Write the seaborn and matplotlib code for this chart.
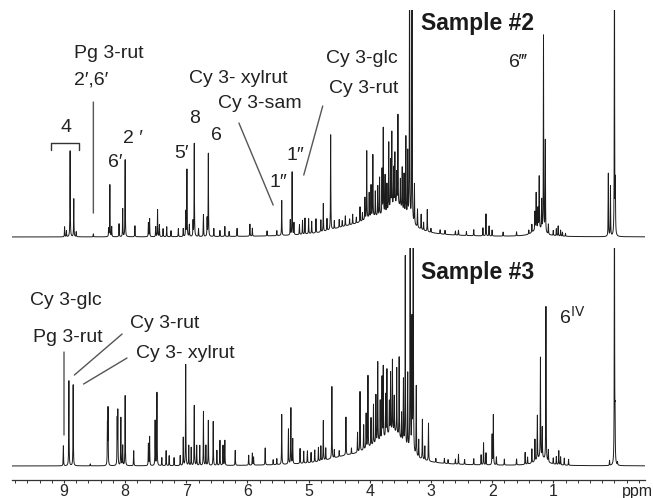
import numpy as np
import pandas as pd
import seaborn as sns
from matplotlib import pyplot as plt

# Sample #2 - sharp peaks: position (ppm) and height above the local background
s2_ppm = [8.99, 8.96, 8.90, 8.84, 8.80, 8.52, 8.27, 8.25, 8.22, 8.10, 8.04, 8.00,
          7.84, 7.62, 7.60, 7.50, 7.47, 7.44, 7.38, 7.32, 7.25, 7.13, 7.05, 7.01,
          6.99, 6.95, 6.89, 6.87, 6.80, 6.72, 6.66, 6.64, 6.55, 6.45, 6.37, 6.30,
          6.17, 5.96, 5.92, 5.68, 5.52, 5.44, 5.30, 5.27, 5.24, 5.15, 5.10, 5.06,
          5.00, 4.95, 4.88, 4.80, 4.76, 4.70, 4.64, 4.58, 4.50, 4.45, 4.40, 4.33,
          4.28, 4.22, 4.16, 4.12, 4.08, 4.05, 4.01, 3.98, 3.95, 3.91, 3.87, 3.84,
          3.80, 3.78, 3.75, 3.72, 3.69, 3.66, 3.64, 3.61, 3.59, 3.56, 3.54, 3.50,
          3.47, 3.44, 3.41, 3.38, 3.35, 3.31, 3.27, 3.22, 3.16, 3.12, 3.06, 3.00,
          2.85, 2.77, 2.60, 2.55, 2.42, 2.30, 2.15, 2.10, 2.05, 2.00, 1.82, 1.60,
          1.40, 1.35, 1.30, 1.28, 1.25, 1.23, 1.19, 1.16, 1.13, 1.08, 1.00, 0.95,
          0.92, 0.88, 0.85, 0.80, 0.10, 0.065, 0.00, -0.015]
s2_int = [10, 6, 86, 38, 5, 3, 8, 52, 10, 13, 28, 77,
          11, 14, 18, 10, 27, 12, 8, 10, 6, 8, 8, 25,
          67, 12, 15, 93, 8, 22, 18, 83, 8, 6, 10, 5,
          8, 12, 8, 5, 5, 35, 15, 63, 12, 10, 14, 16,
          15, 12, 14, 12, 28, 12, 95, 8, 8, 6, 10, 6,
          10, 6, 15, 8, 22, 68, 25, 32, 62, 25, 30, 38,
          45, 86, 38, 28, 68, 48, 75, 38, 52, 32, 90, 28,
          42, 38, 78, 65, 300, 300, 40, 18, 15, 8, 22, 4,
          4, 4, 4, 5, 4, 6, 8, 22, 10, 6, 4, 4,
          4, 8, 18, 36, 20, 52, 30, 196, 92, 10, 5, 7,
          10, 6, 4, 3, 63, 50, 300, 50]
# broad background humps: centre, height, half width
s2_hump_ppm = [3.55, 3.95, 4.40, 1.25]
s2_hump_int = [26, 12, 6, 8]
s2_hump_wid = [0.20, 0.30, 0.40, 0.10]

# Sample #3
s3_ppm = [9.01, 8.92, 8.85, 8.57, 8.29, 8.28, 8.13, 8.12, 8.07, 8.04, 8.00, 7.86,
          7.62, 7.60, 7.51, 7.48, 7.40, 7.33, 7.28, 7.20, 7.10, 7.05, 7.01, 6.96,
          6.92, 6.87, 6.83, 6.78, 6.72, 6.68, 6.64, 6.56, 6.50, 6.45, 6.40, 6.37,
          6.20, 5.98, 5.92, 5.90, 5.71, 5.58, 5.52, 5.44, 5.33, 5.29, 5.26, 5.14,
          5.08, 5.02, 4.96, 4.90, 4.84, 4.80, 4.76, 4.72, 4.62, 4.58, 4.50, 4.39,
          4.30, 4.20, 4.16, 4.10, 4.06, 4.03, 3.98, 3.94, 3.90, 3.87, 3.83, 3.80,
          3.78, 3.74, 3.72, 3.68, 3.66, 3.63, 3.60, 3.56, 3.52, 3.48, 3.45, 3.42,
          3.38, 3.34, 3.31, 3.29, 3.24, 3.20, 3.14, 3.10, 3.04, 2.92, 2.78, 2.72,
          2.60, 2.55, 2.45, 2.30, 2.18, 2.14, 2.10, 2.00, 1.98, 1.93, 1.80, 1.60,
          1.46, 1.42, 1.35, 1.30, 1.26, 1.21, 1.18, 1.12, 1.08, 1.00, 0.95, 0.91,
          0.88, 0.82, 0.75, 0.08, 0.00, -0.01, -0.05]
s3_int = [20, 85, 81, 2, 40, 56, 45, 53, 48, 20, 70, 15,
          22, 29, 45, 73, 8, 15, 10, 8, 10, 28, 101, 20,
          18, 60, 20, 20, 54, 20, 45, 44, 15, 25, 20, 25,
          15, 10, 12, 8, 17, 5, 6, 50, 35, 56, 25, 15,
          12, 12, 10, 12, 14, 15, 40, 12, 72, 8, 6, 38,
          6, 20, 60, 25, 35, 72, 28, 40, 48, 80, 40, 62,
          72, 42, 66, 32, 60, 72, 36, 66, 80, 28, 64, 190,
          75, 300, 130, 300, 70, 18, 40, 14, 38, 4, 5, 4,
          5, 10, 5, 6, 10, 22, 12, 30, 50, 8, 6, 6,
          12, 7, 14, 22, 44, 100, 30, 154, 12, 6, 8, 14,
          8, 7, 6, 5, 300, 39, 3]
s3_hump_ppm = [3.60, 3.90, 4.40, 1.20]
s3_hump_int = [26, 12, 6, 8]
s3_hump_wid = [0.20, 0.30, 0.40, 0.10]

tick_ppm = [9, 8, 7, 6, 5, 4, 3, 2, 1]


def spectrum(grid, ppm, inten, hump_ppm, hump_int, hump_wid, hw=0.003):
    y = np.zeros_like(grid)
    for p, h in zip(ppm, inten):
        y += h / (1 + ((grid - p) / hw) ** 2)
    for p, h, w in zip(hump_ppm, hump_int, hump_wid):
        y += h / (1 + ((grid - p) / w) ** 2)
    return y


grid = np.arange(-0.5, 9.85, 0.0005)
df2 = pd.DataFrame({"ppm": grid,
                    "I": spectrum(grid, s2_ppm, s2_int, s2_hump_ppm, s2_hump_int, s2_hump_wid)})
df3 = pd.DataFrame({"ppm": grid,
                    "I": spectrum(grid, s3_ppm, s3_int, s3_hump_ppm, s3_hump_int, s3_hump_wid)})

sns.set_style("white")
plt.rcParams['font.family'] = ['Liberation Sans', 'DejaVu Sans']

fig = plt.figure(figsize=(6.53, 4.98), dpi=100)
ax1 = fig.add_axes([0.0184, 0.518, 0.9694, 0.4618])
ax2 = fig.add_axes([0.0184, 0.0361, 0.9694, 0.4659])

line_col = "#1c1c1c"
for ax, df in ((ax1, df2), (ax2, df3)):
    sns.lineplot(data=df, x="ppm", y="I", ax=ax, color=line_col, linewidth=0.7,
                 estimator=None, sort=False)
    ax.set_xlim(9.85, -0.5)
    ax.set_xlabel("")
    ax.set_ylabel("")
    ax.set_yticks([])

ax1.set_ylim(-3, 227)
ax2.set_ylim(-14, 218)

sns.despine(ax=ax1, left=True, bottom=True)
ax1.set_xticks([])
sns.despine(ax=ax2, left=True)
ax2.spines['bottom'].set_color("#333333")
ax2.spines['bottom'].set_linewidth(0.9)
ax2.set_xticks(tick_ppm)
ax2.set_xticks(np.arange(-0.4, 9.85, 0.2), minor=True)
ax2.tick_params(axis='x', which='major', direction='out', length=2.4, width=0.8,
                color="#333333", labelsize=11.5, pad=0.4, bottom=True)
ax2.tick_params(axis='x', which='minor', direction='out', length=1.8, width=0.7,
                color="#333333", bottom=True)
ax2.text(-0.38, -0.05, "ppm", transform=ax2.get_xaxis_transform(),
         ha='center', va='center', fontsize=11.5, color="#222222")

txt = dict(fontsize=14, color="#222222", va='center')
pcol = "#555555"


def pointer(ax, x0, y0, x1, y1):
    ax.annotate("", xy=(x1, y1), xytext=(x0, y0),
                arrowprops=dict(arrowstyle='-', color=pcol, lw=1.0,
                                shrinkA=0, shrinkB=0))


# Sample #2 labels
ax1.text(8.83, 184, "Pg 3-rut", ha='left', **txt)
ax1.text(8.83, 157, "2\u2032,6\u2032", ha='left', **txt)
pointer(ax1, 8.52, 135, 8.52, 24)
ax1.text(8.96, 110, "4", ha='center', **txt)
ax1.plot([9.22, 9.22, 8.76, 8.76], [87, 94, 94, 87], color="#333333", lw=1.0)
ax1.text(8.17, 75, "6\u2032", ha='center', **txt)
ax1.text(7.87, 99, "2 \u2032", ha='center', **txt)
ax1.text(7.08, 84, "5\u2032", ha='center', **txt)
ax1.text(6.87, 119, "8", ha='center', **txt)
ax1.text(6.51, 102, "6", ha='center', **txt)
ax1.text(6.95, 159, "Cy 3- xylrut", ha='left', **txt)
ax1.text(6.48, 134, "Cy 3-sam", ha='left', **txt)
pointer(ax1, 6.14, 114, 5.58, 32)
ax1.text(5.49, 55, "1\u2033", ha='center', **txt)
ax1.text(5.21, 82, "1\u2033", ha='center', **txt)
pointer(ax1, 4.77, 131, 5.08, 62)
ax1.text(4.72, 179, "Cy 3-glc", ha='left', **txt)
ax1.text(4.67, 149, "Cy 3-rut", ha='left', **txt)
ax1.text(3.17, 214, "Sample #2", ha='left', fontsize=16.5, fontweight='bold',
         color="#1a1a1a", va='center')
ax1.text(1.73, 175, "6\u2034", ha='left', **txt)

# Sample #3 labels
ax2.text(9.55, 166, "Cy 3-glc", ha='left', **txt)
ax2.text(9.50, 129, "Pg 3-rut", ha='left', **txt)
pointer(ax2, 9.00, 114, 9.00, 31)
ax2.text(7.92, 143, "Cy 3-rut", ha='left', **txt)
pointer(ax2, 8.05, 132, 8.83, 91)
ax2.text(7.82, 113, "Cy 3- xylrut", ha='left', **txt)
pointer(ax2, 7.97, 108, 8.68, 82)
ax2.text(3.17, 194, "Sample #3", ha='left', fontsize=16.5, fontweight='bold',
         color="#1a1a1a", va='center')
ax2.text(0.90, 149, "6$^{\\mathrm{IV}}$", ha='left', **txt)

fig.savefig("out.png", dpi=100)
